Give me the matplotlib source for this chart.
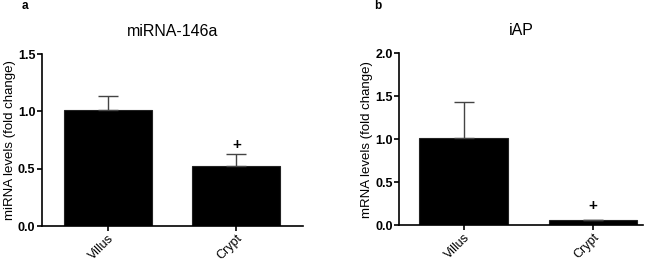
import matplotlib
matplotlib.use('Agg')
import matplotlib.pyplot as plt

plt.rcParams['font.family'] = ['Liberation Sans', 'DejaVu Sans']

groups = ['Villus', 'Crypt']

mirna_vals = [1.01, 0.52]
mirna_err = [0.12, 0.105]
mirna_plus = [None, 0.71]

iap_vals = [1.01, 0.065]
iap_err = [0.42, 0.0]
iap_plus = [None, 0.22]

fig = plt.figure(figsize=(6.6, 2.61), dpi=100)
ax1 = fig.add_axes([0.0632, 0.134, 0.396, 0.659])
ax2 = fig.add_axes([0.6045, 0.137, 0.37, 0.659])


def draw(ax, vals, errs, plus, title, ylabel, ymax, yticks, xlim):
    x = list(range(len(groups)))
    ax.bar(x, vals, width=0.685, color='black', edgecolor='#222222', linewidth=0.8)
    ax.errorbar(x, vals, yerr=[[0] * len(errs), errs], fmt='none', ecolor='#444444',
                elinewidth=1.0, capsize=7.5, capthick=1.0)
    for xi, p in zip(x, plus):
        if p is not None:
            ax.text(xi, p, '+', ha='center', va='center', fontsize=11, fontweight='bold')
    ax.set_ylim(0, ymax)
    ax.set_xlim(*xlim)
    ax.set_yticks(yticks)
    ax.set_yticklabels([f'{t:.1f}' for t in yticks], fontsize=9, fontweight='bold')
    ax.set_xticks(x)
    ax.set_xticklabels(groups, rotation=45, ha='right', rotation_mode='anchor', fontsize=9)
    ax.set_ylabel(ylabel, fontsize=9.5, labelpad=1.5)
    ax.set_title(title, fontsize=11.5, pad=13)
    ax.spines['top'].set_visible(False)
    ax.spines['right'].set_visible(False)
    ax.spines['left'].set_linewidth(1.2)
    ax.spines['bottom'].set_linewidth(1.2)
    ax.tick_params(axis='both', width=1.2, length=3.5, pad=1, direction='out')


draw(ax1, mirna_vals, mirna_err, mirna_plus, 'miRNA-146a', 'miRNA levels (fold change)',
     1.5, [0.0, 0.5, 1.0, 1.5], (-0.516, 1.52))
draw(ax2, iap_vals, iap_err, iap_plus, 'iAP', 'mRNA levels (fold change)',
     2.0, [0.0, 0.5, 1.0, 1.5, 2.0], (-0.5, 1.39))

fig.text(25 / 660, 1 - 6 / 261, 'a', fontsize=8.5, fontweight='bold', ha='center', va='center')
fig.text(378 / 660, 1 - 6 / 261, 'b', fontsize=8.5, fontweight='bold', ha='center', va='center')

fig.savefig('out.png', dpi=100)
